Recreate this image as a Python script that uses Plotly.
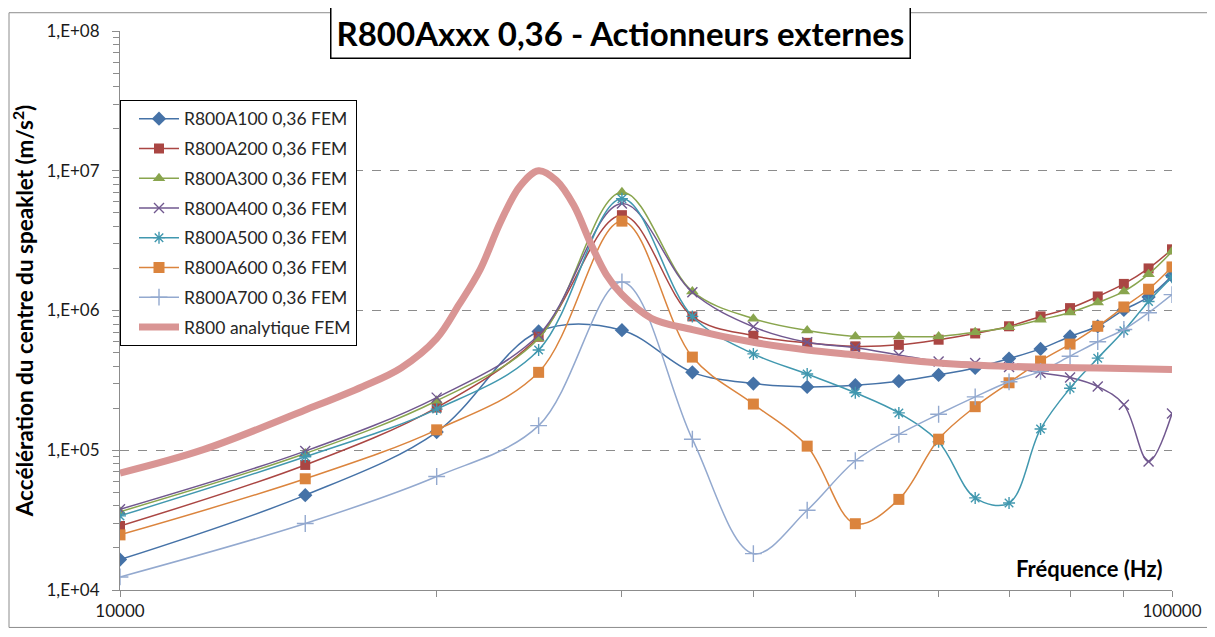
import plotly.graph_objects as go

# ---------------- data ----------------
freq = [10000, 15000, 20000, 25000, 30000, 35000, 40000, 45000, 50000, 55000,
        60000, 65000, 70000, 75000, 80000, 85000, 90000, 95000, 100000]

a100 = [16500, 47700, 135000, 708000, 723000, 361000, 300000, 284000, 292000, 312000,
        346000, 388000, 453000, 531000, 652000, 771000, 1010000, 1250000, 1770000]
a200 = [28700, 78500, 202000, 649000, 4810000, 907000, 660000, 587000, 554000, 568000,
        618000, 685000, 771000, 907000, 1040000, 1260000, 1550000, 2000000, 2740000]
a300 = [36300, 94800, 226000, 631000, 7030000, 1370000, 874000, 719000, 652000, 652000,
        652000, 700000, 759000, 860000, 967000, 1140000, 1370000, 1820000, 2640000]
a400 = [37800, 98600, 238000, 667000, 5820000, 1350000, 764000, 592000, 541000, 481000,
        432000, 421000, 394000, 358000, 332000, 286000, 212000, 83100, 183000]
a500 = [33900, 89800, 197000, 522000, 6310000, 907000, 489000, 351000, 258000, 185000,
        115000, 45600, 41900, 142000, 278000, 456000, 717000, 1160000, 1730000]
a600 = [24800, 62500, 140000, 361000, 4360000, 464000, 214000, 107000, 29800, 44500,
        120000, 205000, 304000, 435000, 575000, 771000, 1060000, 1420000, 2050000]
a700 = [12400, 29900, 64900, 150000, 1600000, 120000, 18200, 37200, 84100, 130000,
        181000, 241000, 309000, 367000, 471000, 598000, 731000, 964000, 1300000]

freq_analytic = [10000, 12000, 15000, 17000, 18500, 20000, 21000, 22000, 23000, 24000,
                 25000, 26000, 27000, 28000, 29000, 30000, 32000, 35000, 40000, 45000,
                 50000, 60000, 70000, 85000, 100000]
analytic = [68700, 101000, 194000, 285000, 388000, 631000, 1100000, 1970000, 4300000, 7750000,
            10000000, 8500000, 5660000, 3050000, 1800000, 1300000, 880000, 730000, 592000, 522000,
            481000, 421000, 398000, 388000, 378000]

series_names = ["R800A100 0,36 FEM", "R800A200 0,36 FEM", "R800A300 0,36 FEM",
                "R800A400 0,36 FEM", "R800A500 0,36 FEM", "R800A600 0,36 FEM",
                "R800A700 0,36 FEM"]
analytic_name = "R800 analytique FEM"

y_tick_vals = [1e4, 1e5, 1e6, 1e7, 1e8]
y_tick_text = ["1,E+04", "1,E+05", "1,E+06", "1,E+07", "1,E+08"]
x_tick_vals = [10000, 100000]
x_tick_text = ["10000", "100000"]

title_text = "R800Axxx 0,36 - Actionneurs externes"
y_title = "Accélération du centre du speaklet (m/s<sup>2</sup>)"
x_title = "Fréquence (Hz)"

# ---------------- styles ----------------
colors = ["#4572A7", "#AA4643", "#89A54E", "#71588F", "#4198AF", "#DB843D", "#93A9CF"]
symbols = ["diamond", "square", "triangle-up", "x-thin-open", "asterisk-open", "square", "cross-thin-open"]
sizes = [11, 10, 11, 10, 10, 11, 12]
FONT = "Lato"

fig = go.Figure()
all_series = [a100, a200, a300, a400, a500, a600, a700]
for i, (name, vals) in enumerate(zip(series_names, all_series)):
    open_sym = symbols[i].endswith("open")
    fig.add_trace(go.Scatter(
        x=freq, y=vals, name=name, mode="lines+markers",
        legendgroup=f"g{i}",
        line=dict(color=colors[i], width=1.5, shape="spline", smoothing=1.0),
        marker=dict(symbol=symbols[i], size=sizes[i], color=colors[i],
                    line=dict(color=colors[i], width=1.4 if open_sym else 0)),
    ))

fig.add_trace(go.Scatter(
    x=freq_analytic, y=analytic, name=analytic_name, mode="lines",
    legendgroup="g7",
    line=dict(color="#D99594", width=7, shape="spline", smoothing=1.0),
))

grid_col = "#8C8C8C"
axis_col = "#8C8C8C"

# The page body has an 8px default margin, so the figure is offset by 8px.
fig.update_layout(
    width=1207, height=629,
    margin=dict(l=112, r=43, t=16, b=47),
    paper_bgcolor="white", plot_bgcolor="white",
    font=dict(family=FONT, size=16, color="#1A1A1A"),
    showlegend=True,
    legend=dict(
        x=0.0, y=0.877, xanchor="left", yanchor="top",
        bgcolor="white", bordercolor="#000000", borderwidth=1,
        font=dict(family=FONT, size=17.5, color="#262626"),
        traceorder="grouped", tracegroupgap=4,
        indentation=13,
        itemwidth=40,
    ),
    xaxis=dict(
        type="log", range=[4, 5],
        showline=True, linecolor=axis_col, linewidth=1,
        showgrid=False, zeroline=False,
        ticks="outside", ticklen=6, tickcolor=axis_col,
        tickvals=x_tick_vals, ticktext=x_tick_text,
        tickfont=dict(family=FONT, size=17, color="#1A1A1A"),
        minor=dict(ticks="outside", ticklen=6, tickcolor=axis_col,
                   tickvals=[20000, 30000, 40000, 50000, 60000, 70000, 80000, 90000],
                   showgrid=False),
    ),
    yaxis=dict(
        type="log", range=[4, 8],
        showline=True, linecolor=axis_col, linewidth=1,
        showgrid=True, gridcolor=grid_col, griddash="dash", gridwidth=1,
        zeroline=False,
        ticks="outside", ticklen=7, tickcolor=axis_col,
        ticklabelstandoff=9,
        tickvals=y_tick_vals, ticktext=y_tick_text,
        tickfont=dict(family=FONT, size=17, color="#1A1A1A"),
        title=dict(text=f"<b>{y_title}</b>", font=dict(family=FONT, size=22.5, color="#000000"),
                   standoff=6),
        minor=dict(ticks="outside", ticklen=6, tickcolor=axis_col,
                   tickvals=[m * 10 ** e for e in range(4, 8) for m in range(2, 10)],
                   showgrid=False),
    ),
)

# Chart title in a bordered box
fig.add_annotation(
    text=f"<b>{title_text}</b>", xref="paper", yref="paper",
    x=0.476, y=0.998, xanchor="center", yanchor="middle", showarrow=False,
    font=dict(family=FONT, size=33, color="#000000"),
    bgcolor="white", bordercolor="#000000", borderwidth=1.5, borderpad=5,
)

# X axis title inside the plot, bottom right
fig.add_annotation(
    text=f"<b>{x_title}</b>", xref="paper", yref="paper",
    x=0.9933, y=0.0388, xanchor="right", yanchor="middle", showarrow=False,
    font=dict(family=FONT, size=22, color="#000000"),
)

# outer chart border
fig.add_shape(type="rect", xref="paper", yref="paper",
              x0=-0.1055, x1=1.0342, y0=-0.067, y1=1.0327,
              line=dict(color="#8C8C8C", width=1), layer="below")

fig.write_html("out.html")
